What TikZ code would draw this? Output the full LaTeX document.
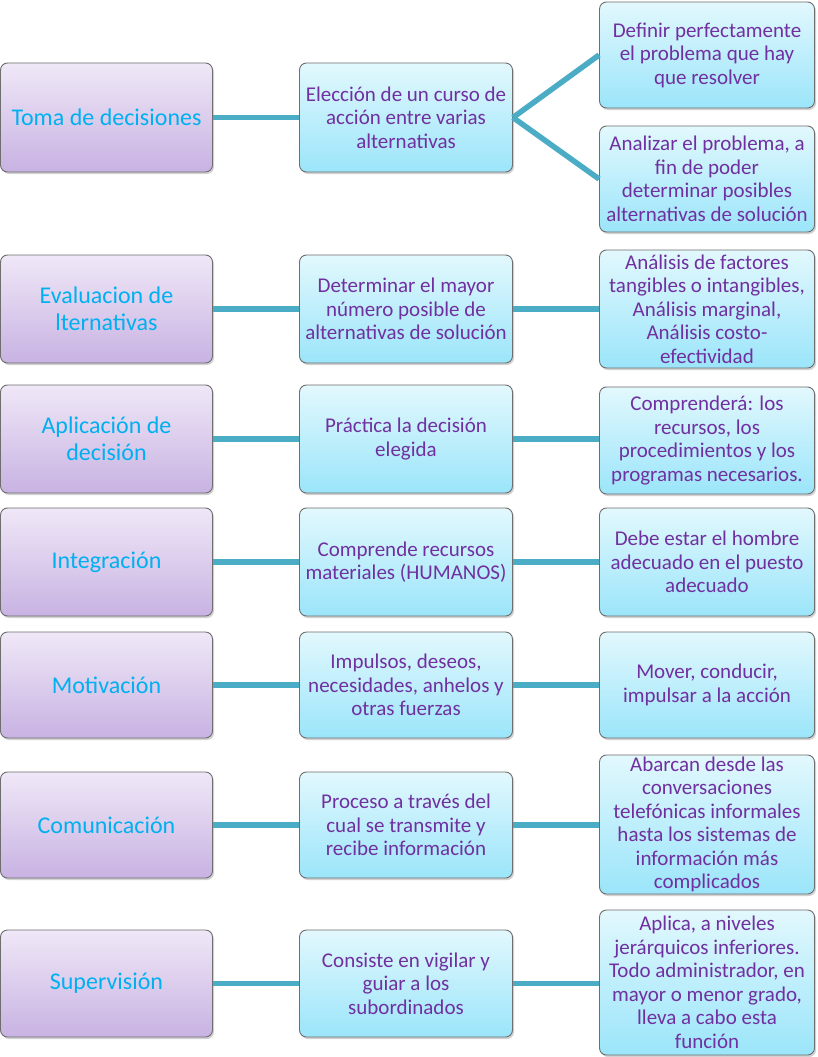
\documentclass[tikz,border=0pt]{standalone}
\usepackage{fontspec}
\setmainfont{Carlito}
\usetikzlibrary{shadows}
\definecolor{lilatop}{HTML}{EFE8F7}
\definecolor{lilabot}{HTML}{C8B2E2}
\definecolor{cyantop}{HTML}{E2F8FD}
\definecolor{cyanbot}{HTML}{9BE5FA}
\definecolor{linkc}{HTML}{4BACC6}
\definecolor{ltext}{HTML}{00B0F0}
\definecolor{mtext}{HTML}{7030A0}
\definecolor{edgec}{HTML}{6E6E6E}
\tikzset{
 box/.style={rectangle, rounded corners=7pt, draw=edgec, line width=0.9pt, align=center, inner xsep=2pt, inner ysep=0pt,
   drop shadow={opacity=0.35, shadow xshift=1.5pt, shadow yshift=-2pt}},
 lbox/.style={box, top color=lilatop, bottom color=lilabot, text=ltext, font=\fontsize{24}{27}\selectfont, minimum width=212pt},
 mbox/.style={box, top color=cyantop, bottom color=cyanbot, text=mtext, font=\fontsize{21}{23.5}\selectfont, minimum width=213pt},
 rbox/.style={mbox, minimum width=215pt},
 link/.style={draw=linkc, line width=5.5pt},
}
\begin{document}
\begin{tikzpicture}[x=1pt,y=-1pt]
\path[fill=white] (0,0) rectangle (817,1057);
\useasboundingbox (0,0) rectangle (817,1057);
% row 1
\node[lbox, minimum height=109pt] (l1) at (106.5,117.5) {Toma de decisiones};
\node[mbox, minimum height=109pt] (m1) at (406,117.5) {Elección de un curso de\\acción entre varias\\alternativas};
\node[rbox, minimum height=106pt] (r1a) at (707,55) {Definir perfectamente\\el problema que hay\\que resolver};
\node[rbox, minimum height=106pt] (r1b) at (707,179) {Analizar el problema, a\\fin de poder\\determinar posibles\\alternativas de solución};
% row 2
\node[lbox, minimum height=108pt] (l2) at (106.5,309) {Evaluacion de\\lternativas};
\node[mbox, minimum height=108pt] (m2) at (406,309) {Determinar el mayor\\número posible de\\alternativas de solución};
\node[rbox, minimum height=118pt] (r2) at (707,309) {Análisis de factores\\tangibles o intangibles,\\Análisis marginal,\\Análisis costo-\\efectividad};
% row 3
\node[lbox, minimum height=108pt] (l3) at (106.5,439) {Aplicación de\\decisión};
\node[mbox, minimum height=108pt] (m3) at (406,439) {Práctica la decisión\\elegida};
\node[rbox, minimum height=107pt] (r3) at (707,440.5) {Comprenderá: los\\recursos, los\\procedimientos y los\\programas necesarios.};
% row 4
\node[lbox, minimum height=108pt] (l4) at (106.5,562) {Integración};
\node[mbox, minimum height=108pt] (m4) at (406,562) {Comprende recursos\\materiales (HUMANOS)};
\node[rbox, minimum height=108pt] (r4) at (707,562) {Debe estar el hombre\\adecuado en el puesto\\adecuado};
% row 5
\node[lbox, minimum height=106pt] (l5) at (106.5,685) {Motivación};
\node[mbox, minimum height=106pt] (m5) at (406,685) {Impulsos, deseos,\\necesidades, anhelos y\\otras fuerzas};
\node[rbox, minimum height=106pt] (r5) at (707,685) {Mover, conducir,\\impulsar a la acción};
% row 6
\node[lbox, minimum height=106pt] (l6) at (106.5,825) {Comunicación};
\node[mbox, minimum height=106pt] (m6) at (406,825) {Proceso a través del\\cual se transmite y\\recibe información};
\node[rbox, minimum height=139pt] (r6) at (707,824.5) {Abarcan desde las\\conversaciones\\telefónicas informales\\hasta los sistemas de\\información más\\complicados};
% row 7
\node[lbox, minimum height=107pt] (l7) at (106.5,983.5) {Supervisión};
\node[mbox, minimum height=107pt] (m7) at (406,983.5) {Consiste en vigilar y\\guiar a los\\subordinados};
\node[rbox, minimum height=145pt] (r7) at (707,982.5) {Aplica, a niveles\\jerárquicos inferiores.\\Todo administrador, en\\mayor o menor grado,\\lleva a cabo esta\\función};
% links
\draw[link] (l1.east) -- (m1.west);
\draw[link] (m1.east) -- (r1a.west);
\draw[link] (m1.east) -- (r1b.west);
\foreach \i in {2,...,7}{
  \draw[link] (l\i.east) -- (m\i.west);
  \draw[link] (m\i.east) -- (m\i.east -| r\i.west);
}
\end{tikzpicture}
\end{document}
